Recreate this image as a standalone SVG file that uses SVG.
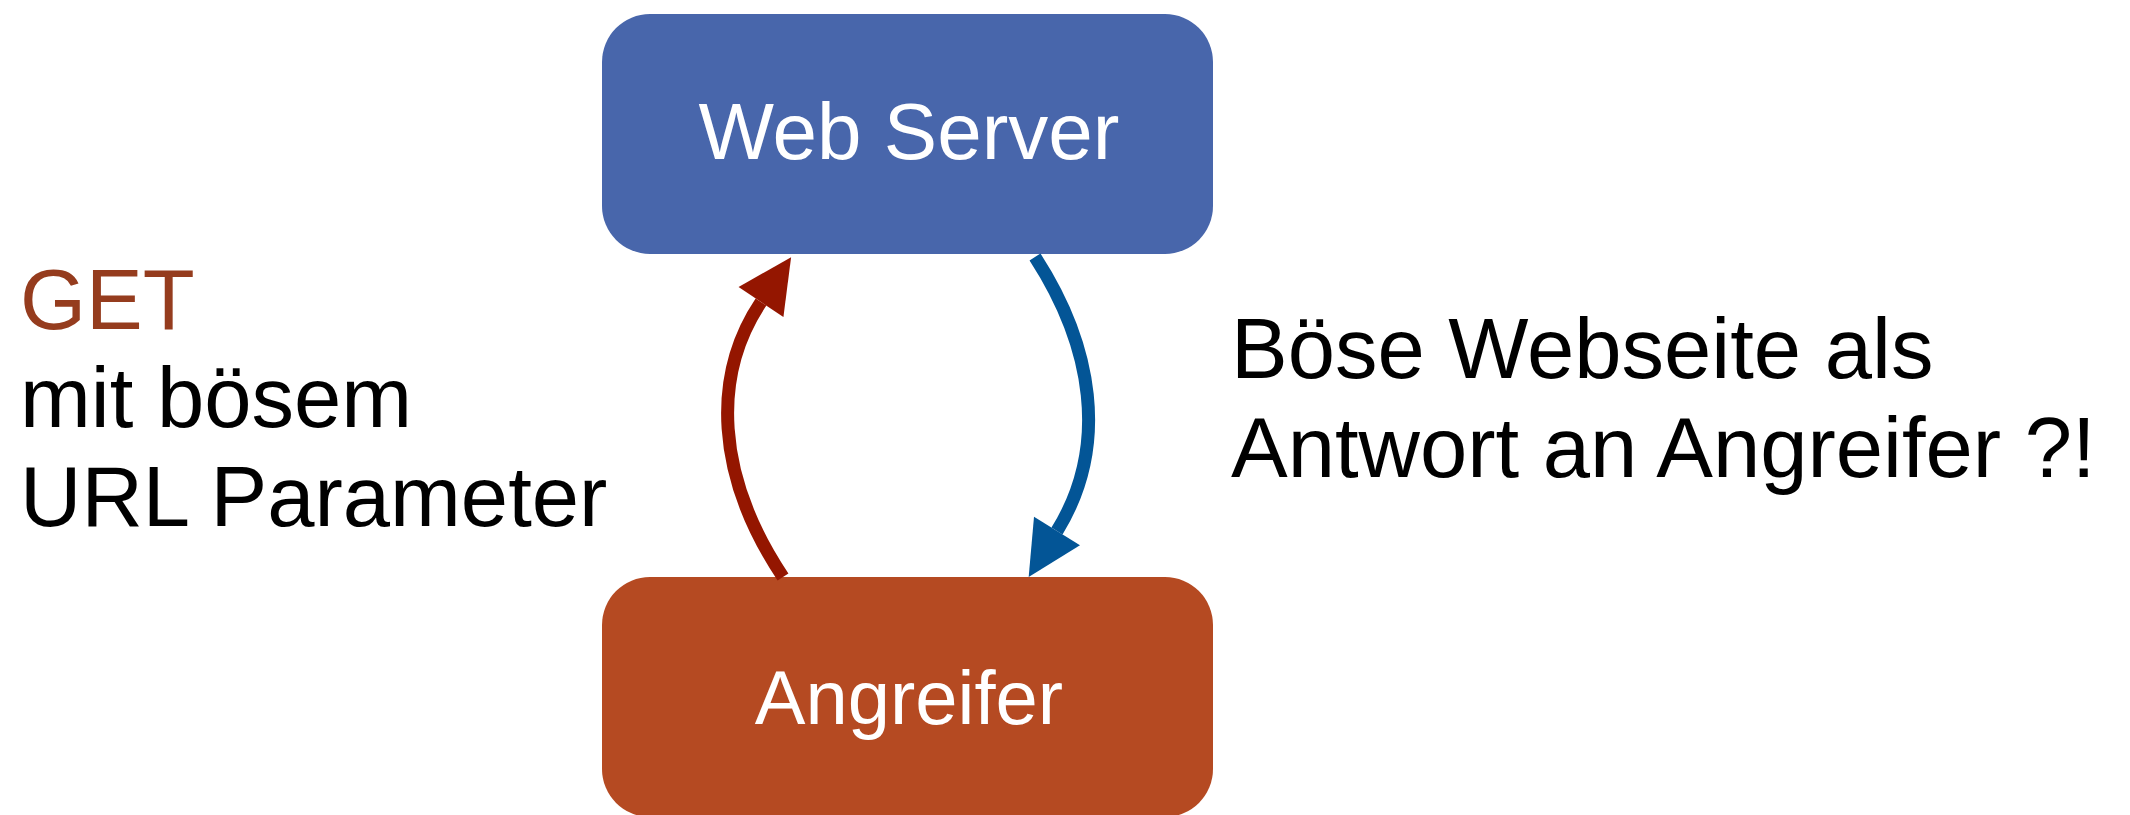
<svg xmlns="http://www.w3.org/2000/svg" width="2130" height="815" viewBox="0 0 2130 815">
  <style>
    .label { font-family: "Liberation Sans", Arial, sans-serif; }
    .node-text { fill: #ffffff; text-anchor: middle; }
    .side { font-size: 85px; fill: #000000; }
    .conn { fill: none; stroke-width: 13; stroke-linecap: butt; }
  </style>
  <defs>
    <marker id="head-red" markerUnits="userSpaceOnUse" markerWidth="60" markerHeight="60" refX="0" refY="0" orient="auto" overflow="visible">
      <path d="M0,-27 L54,0 L0,27 Z" fill="#941600"/>
    </marker>
    <marker id="head-blue" markerUnits="userSpaceOnUse" markerWidth="60" markerHeight="60" refX="0" refY="0" orient="auto" overflow="visible">
      <path d="M0,-27 L54,0 L0,27 Z" fill="#035596"/>
    </marker>
  </defs>

  <rect width="2130" height="815" fill="#ffffff"/>

  <g id="web-server">
    <rect x="602" y="14" width="611" height="240" rx="48" ry="48" fill="#4866ab"/>
    <text class="label node-text" x="909" y="159" font-size="80">Web Server</text>
  </g>

  <g id="angreifer">
    <rect x="602" y="577" width="611" height="240" rx="48" ry="48" fill="#b54a22"/>
    <text class="label node-text" x="909" y="724" font-size="76">Angreifer</text>
  </g>

  <g id="connectors">
    <path class="conn" stroke="#941600" d="M783,577 C715,475 712,375 761,302" marker-end="url(#head-red)"/>
    <path class="conn" stroke="#035596" d="M1035,257 C1092,345 1110,445 1057,531" marker-end="url(#head-blue)"/>
  </g>

  <g id="request-label" class="label side">
    <text x="20" y="329" fill="#953c1e">GET</text>
    <text x="20" y="427">mit bösem</text>
    <text x="20" y="526">URL Parameter</text>
  </g>

  <g id="response-label" class="label side">
    <text x="1231" y="378">Böse Webseite als</text>
    <text x="1231" y="477">Antwort an Angreifer ?!</text>
  </g>
</svg>
